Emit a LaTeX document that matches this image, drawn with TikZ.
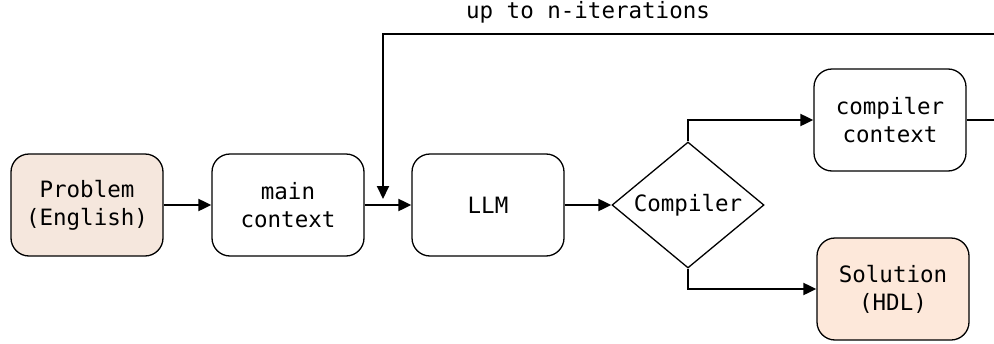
\documentclass[tikz,border=0pt]{standalone}
\usepackage{fontspec}
\setmonofont{DejaVu Sans Mono}
\usetikzlibrary{shapes.geometric,arrows.meta}
\definecolor{probfill}{HTML}{F5E7DD}
\definecolor{solfill}{HTML}{FDE8DA}
\begin{document}
\begin{tikzpicture}[x=1pt,y=-1pt,
  font=\ttfamily\fontsize{22.5}{28}\selectfont,
  box/.style={draw=black, line width=1.3pt, rounded corners=18pt,
    minimum width=152pt, minimum height=102pt, align=center, inner sep=0pt},
  decision/.style={draw=black, line width=1.3pt, diamond, aspect=1.2,
    minimum width=152pt, minimum height=126pt, inner sep=0pt},
  arr/.style={line width=2pt, -{Triangle[length=13pt,width=12pt]}},
  wire/.style={line width=2pt}]
\useasboundingbox (0,0) rectangle (994,343);

\node[box, fill=probfill] (prob) at (87,205) {Problem\\(English)};
\node[box] (main) at (288,205) {main\\context};
\node[box] (llm) at (488,205) {LLM};
\node[decision] (comp) at (688,205) {Compiler};
\node[box] (cctx) at (890,120) {compiler\\context};
\node[box, fill=solfill] (sol) at (893,289) {Solution\\(HDL)};

\coordinate (r1) at (1002,120);
\coordinate (r2) at (1002,34);
\coordinate (l1) at (383,34);
\coordinate (l2) at (383,199);

\draw[arr] (prob.east) -- (main.west);
\draw[arr] (main.east) -- (llm.west);
\draw[arr] (llm.east) -- (comp.west);
\draw[arr] (comp.north) |- (cctx.west);
\draw[arr] (comp.south) |- (sol.west);
\draw[arr] (cctx.east) -- (r1) -- (r2) -- (l1) -- (l2);

\node (iter) at (588,12) {up to n-iterations};
\end{tikzpicture}
\end{document}
